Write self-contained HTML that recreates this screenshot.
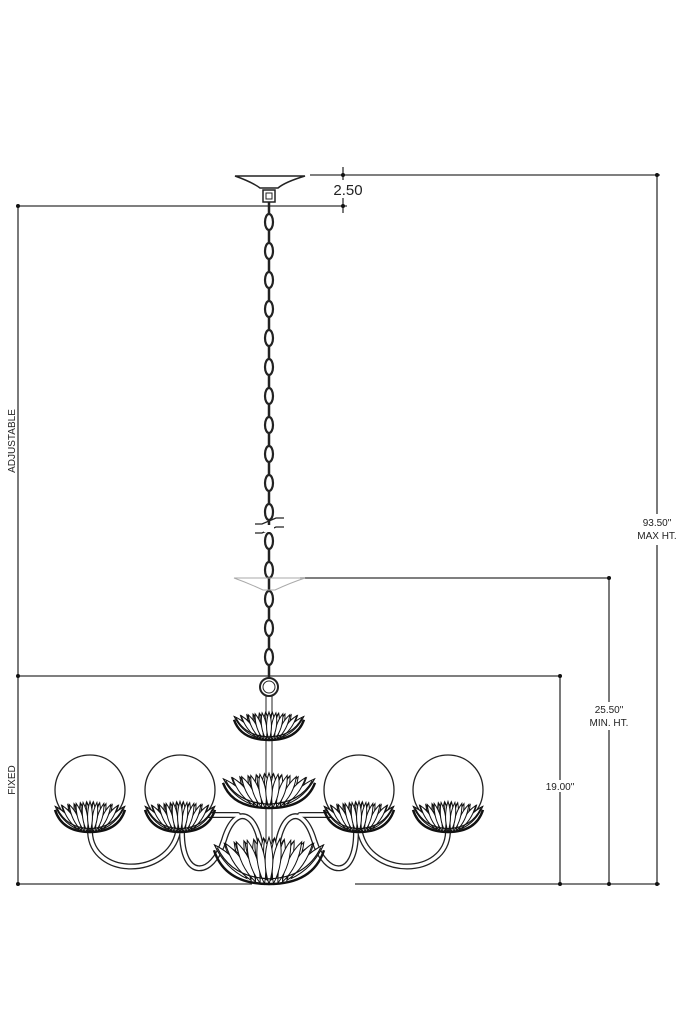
<!DOCTYPE html>
<html><head><style>html,body{margin:0;padding:0;background:#fff}svg{display:block}</style></head>
<body>
<svg width="683" height="1024" viewBox="0 0 683 1024" xmlns="http://www.w3.org/2000/svg">
<defs>
<g id="petals" fill="#fff" stroke="#111" stroke-width="1">
  <path vector-effect="non-scaling-stroke" d="M-20.25,-4.26 Q-39.5,-11.8 -49.5,-30 Q-30.3,-22.4 -20.25,-4.26Z"/>
  <path vector-effect="non-scaling-stroke" d="M20.25,-4.26 Q39.5,-11.8 49.5,-30 Q30.3,-22.4 20.25,-4.26Z"/>
  <path vector-effect="non-scaling-stroke" d="M-16.2,-2.73 Q-33.3,-12.5 -39.6,-31.2 Q-22.5,-21.4 -16.2,-2.73Z"/>
  <path vector-effect="non-scaling-stroke" d="M16.2,-2.73 Q33.3,-12.5 39.6,-31.2 Q22.5,-21.4 16.2,-2.73Z"/>
  <path vector-effect="non-scaling-stroke" d="M-12.15,-1.54 Q-27,-13.5 -29.7,-32.4 Q-14.8,-20.4 -12.15,-1.54Z"/>
  <path vector-effect="non-scaling-stroke" d="M12.15,-1.54 Q27,-13.5 29.7,-32.4 Q14.8,-20.4 12.15,-1.54Z"/>
  <path vector-effect="non-scaling-stroke" d="M-8.1,-0.68 Q-20.55,-14.8 -19.8,-33.6 Q-7.35,-19.5 -8.1,-0.68Z"/>
  <path vector-effect="non-scaling-stroke" d="M8.1,-0.68 Q20.55,-14.8 19.8,-33.6 Q7.35,-19.5 8.1,-0.68Z"/>
  <path vector-effect="non-scaling-stroke" d="M-4.05,-0.17 Q-13.9,-16.3 -9.9,-34.8 Q-0.08,-18.7 -4.05,-0.17Z"/>
  <path vector-effect="non-scaling-stroke" d="M4.05,-0.17 Q13.9,-16.3 9.9,-34.8 Q0.08,-18.7 4.05,-0.17Z"/>
  <path vector-effect="non-scaling-stroke" d="M0,0 Q7,-18 0,-36 Q-7,-18 0,0Z"/>
</g>
<g id="lotus">
  <use href="#petals" transform="translate(-5,-3) scale(0.9)"/>
  <use href="#petals" transform="translate(5,-3) scale(0.9)"/>
  <use href="#petals"/>
  <path vector-effect="non-scaling-stroke" fill="none" stroke="#111" stroke-width="2.4" d="M-50,-26 Q-40,0 0,0 Q40,0 50,-26"/>
  <path vector-effect="non-scaling-stroke" fill="none" stroke="#111" stroke-width="1.2" d="M-47,-28 Q-34,-5 0,-4 Q34,-5 47,-28"/>
</g>
<g id="link"><ellipse cx="0" cy="0" rx="4" ry="8" fill="none" stroke="#222" stroke-width="2.2"/><line x1="0" y1="8" x2="0" y2="20" stroke="#222" stroke-width="2.5"/></g>
</defs>

<g stroke="#333" stroke-width="1.3" fill="none">
  <line x1="310" y1="175" x2="660" y2="175"/>
  <line x1="343" y1="167" x2="343" y2="213"/>
  <line x1="18" y1="206" x2="347" y2="206"/>
  <line x1="18" y1="206" x2="18" y2="884"/>
  <line x1="18" y1="676" x2="562" y2="676"/>
  <line x1="560" y1="676" x2="560" y2="780"/>
  <line x1="560" y1="792" x2="560" y2="884"/>
  <line x1="300" y1="578" x2="611" y2="578"/>
  <line x1="609" y1="578" x2="609" y2="702"/>
  <line x1="609" y1="730" x2="609" y2="884"/>
  <line x1="657" y1="175" x2="657" y2="514"/>
  <line x1="657" y1="545" x2="657" y2="884"/>
  <line x1="18" y1="884" x2="252" y2="884"/>
  <line x1="355" y1="884" x2="660" y2="884"/>
</g>
<g fill="#111">
  <circle cx="343" cy="175" r="2"/><circle cx="343" cy="206" r="2"/>
  <circle cx="18" cy="206" r="2"/><circle cx="18" cy="676" r="2"/><circle cx="18" cy="884" r="2"/>
  <circle cx="560" cy="676" r="2"/><circle cx="560" cy="884" r="2"/>
  <circle cx="609" cy="578" r="2"/><circle cx="609" cy="884" r="2"/>
  <circle cx="657" cy="175" r="2"/><circle cx="657" cy="884" r="2"/>
</g>

<rect x="330" y="180" width="38" height="18" fill="#fff"/>
<g font-family="Liberation Sans, sans-serif" fill="#222" text-anchor="middle">
  <text x="348" y="195" font-size="15">2.50</text>
  <text transform="translate(15,441) rotate(-90)" font-size="10">ADJUSTABLE</text>
  <text transform="translate(15,780) rotate(-90)" font-size="10">FIXED</text>
  <text x="657" y="526" font-size="10">93.50"</text>
  <text x="657" y="539" font-size="10">MAX HT.</text>
  <text x="609" y="713" font-size="10">25.50"</text>
  <text x="609" y="726" font-size="10">MIN. HT.</text>
  <text x="560" y="790" font-size="10">19.00"</text>
</g>

<path d="M235,176 L305,176 Q285,182 278,188 L260,188 Q252,182 235,176Z" fill="#fff" stroke="#222" stroke-width="1.5"/>
<rect x="263" y="190" width="12" height="12" fill="none" stroke="#222" stroke-width="1.5"/>
<rect x="266" y="193" width="6" height="6" fill="none" stroke="#222" stroke-width="1"/>
<g transform="translate(269,0)">
  <line x1="0" y1="202" x2="0" y2="214" stroke="#222" stroke-width="2.5"/>
  <use href="#link" y="222"/><use href="#link" y="251"/><use href="#link" y="280"/><use href="#link" y="309"/>
  <use href="#link" y="338"/><use href="#link" y="367"/><use href="#link" y="396"/><use href="#link" y="425"/>
  <use href="#link" y="454"/><use href="#link" y="483"/><use href="#link" y="512"/><use href="#link" y="541"/>
  <use href="#link" y="570"/><use href="#link" y="599"/><use href="#link" y="628"/><use href="#link" y="657"/>
</g>
<g stroke="#222" stroke-width="1.3" fill="none">
  <path d="M255,524 L262,524 L276,518 L284,518"/>
  <path d="M255,533 L262,533 L276,527 L284,527"/>
</g>
<rect x="264" y="525" width="10" height="7" fill="#fff"/>
<path d="M234,578 L305,578 Q290,583 275,590 L263,590 Q248,583 234,578Z" fill="none" stroke="#aaa" stroke-width="1"/>
<circle cx="269" cy="687" r="9" fill="none" stroke="#222" stroke-width="2"/>
<circle cx="269" cy="687" r="6" fill="none" stroke="#222" stroke-width="1"/>
<line x1="266" y1="696" x2="266" y2="880" stroke="#222" stroke-width="1"/>
<line x1="272" y1="696" x2="272" y2="880" stroke="#222" stroke-width="1"/>

<g fill="none" stroke-linecap="round">
  <g stroke="#222" stroke-width="6">
    <path d="M90,832 C92,878 168,878 178,832"/>
    <path d="M182,832 C182,880 212,878 224,840 C236,800 262,812 262,865"/>
    <path d="M448,832 C446,878 370,878 360,832"/>
    <path d="M356,832 C356,880 326,878 314,840 C302,800 276,812 276,865"/>
    <path d="M205,815 L238,815"/><path d="M333,815 L300,815"/>
  </g>
  <g stroke="#fff" stroke-width="3.4">
    <path d="M90,832 C92,878 168,878 178,832"/>
    <path d="M182,832 C182,880 212,878 224,840 C236,800 262,812 262,865"/>
    <path d="M448,832 C446,878 370,878 360,832"/>
    <path d="M356,832 C356,880 326,878 314,840 C302,800 276,812 276,865"/>
    <path d="M205,815 L238,815"/><path d="M333,815 L300,815"/>
  </g>
</g>

<g fill="#fff" stroke="#222" stroke-width="1.3">
  <circle cx="90" cy="790" r="35"/>
  <circle cx="180" cy="790" r="35"/>
  <circle cx="359" cy="790" r="35"/>
  <circle cx="448" cy="790" r="35"/>
</g>
<use href="#lotus" transform="translate(90,832) scale(0.7,0.85)"/>
<use href="#lotus" transform="translate(180,832) scale(0.7,0.85)"/>
<use href="#lotus" transform="translate(359,832) scale(0.7,0.85)"/>
<use href="#lotus" transform="translate(448,832) scale(0.7,0.85)"/>
<use href="#lotus" transform="translate(269,740) scale(0.7,0.78)"/>
<use href="#lotus" transform="translate(269,808) scale(0.92,0.97)"/>
<use href="#lotus" transform="translate(269,884) scale(1.1,1.3)"/>
</svg>
</body></html>
